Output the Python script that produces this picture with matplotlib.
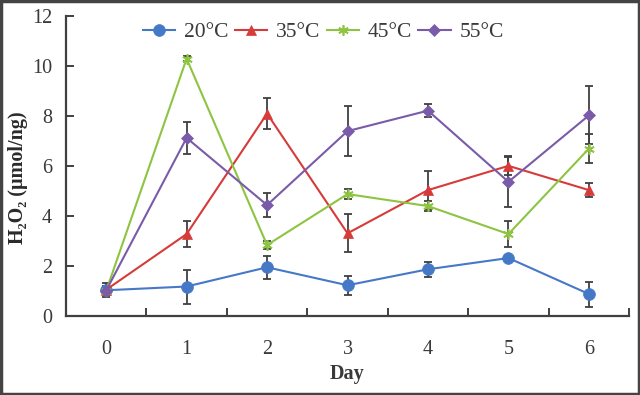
import numpy as np
import matplotlib.pyplot as plt
from matplotlib.patches import Rectangle

plt.rcParams['font.family'] = ['Liberation Serif', 'DejaVu Serif']

# Data
days = [0, 1, 2, 3, 4, 5, 6]
labels = ["20°C", "35°C", "45°C", "55°C"]

t20 = [1.03, 1.18, 1.95, 1.23, 1.87, 2.32, 0.88]
t20_err = [0.28, 0.68, 0.47, 0.38, 0.30, 0.08, 0.50]

t35 = [1.05, 3.28, 8.10, 3.31, 5.04, 6.01, 5.04]
t35_err = [0.15, 0.52, 0.62, 0.76, 0.77, 0.38, 0.28]

t45 = [1.00, 10.30, 2.84, 4.88, 4.40, 3.28, 6.70]
t45_err = [0.10, 0.10, 0.15, 0.20, 0.20, 0.53, 0.58]

t55 = [1.02, 7.13, 4.44, 7.40, 8.22, 5.37, 8.03]
t55_err = [0.15, 0.65, 0.47, 1.00, 0.27, 1.00, 1.16]

series = [t20, t35, t45, t55]
errors = [t20_err, t35_err, t45_err, t55_err]
colors = ["#4678C8", "#D63B3A", "#8DC442", "#7A5BAA"]
markers = ["o", "^", (6, 2, 0), "D"]
msizes = [8.5, 7.5, 7.5, 6]

fig = plt.figure(figsize=(6.4, 3.95), dpi=100)
ax = fig.add_axes([0.103, 0.2, 0.88, 0.759])

text_col = "#3a3a3a"
for vals, err, c, m, ms, lab in zip(series, errors, colors, markers, msizes, labels):
    ax.errorbar(days, vals, yerr=err, fmt="none", ecolor="#404040",
                elinewidth=1.3, capsize=3, capthick=1.3, zorder=2)
    ax.plot(days, vals, color=c, marker=m, markersize=ms, lw=1.5,
            markeredgecolor=c, markeredgewidth=1.2 if m == (6, 2, 0) else 0.5,
            label=lab, zorder=3)

ax.set_xlim(-0.5, 6.5)
ax.set_ylim(0, 12)
ax.set_yticks(range(0, 13, 2))
ax.set_xticks(days)
ax.set_xticks(np.arange(-0.5, 7, 1), minor=True)
ax.tick_params(axis="x", which="major", length=0, pad=17, labelsize=14.5, labelcolor=text_col)
ax.tick_params(axis="x", which="minor", direction="in", length=6, width=1.4, color="#404040")
ax.tick_params(axis="y", direction="in", length=6, width=1.4, color="#404040",
               labelsize=14.5, labelcolor=text_col, pad=10)

for s in ["top", "right"]:
    ax.spines[s].set_visible(False)
for s in ["left", "bottom"]:
    ax.spines[s].set_linewidth(1.6)
    ax.spines[s].set_color("#404040")

ax.set_xlabel("Day", fontsize=14.5, fontweight="bold", color=text_col, labelpad=4)
ax.set_ylabel("H₂O₂ (μmol/ng)", fontsize=14.5, fontweight="bold", color="#2a2a2a")
ax.yaxis.set_label_coords(-0.068, 0.46)

ax.legend(loc="upper center", bbox_to_anchor=(0.457, 1.045), ncol=4, frameon=False,
          fontsize=15.5, handlelength=1.5, columnspacing=0.3, handletextpad=0.4,
          labelcolor=text_col)

# frame around the whole picture
fig.patches.append(Rectangle((0.002, 0.003), 0.996, 0.994, transform=fig.transFigure,
                             fill=False, edgecolor="#444444", lw=2.5))

fig.savefig("out.png", dpi=100)
